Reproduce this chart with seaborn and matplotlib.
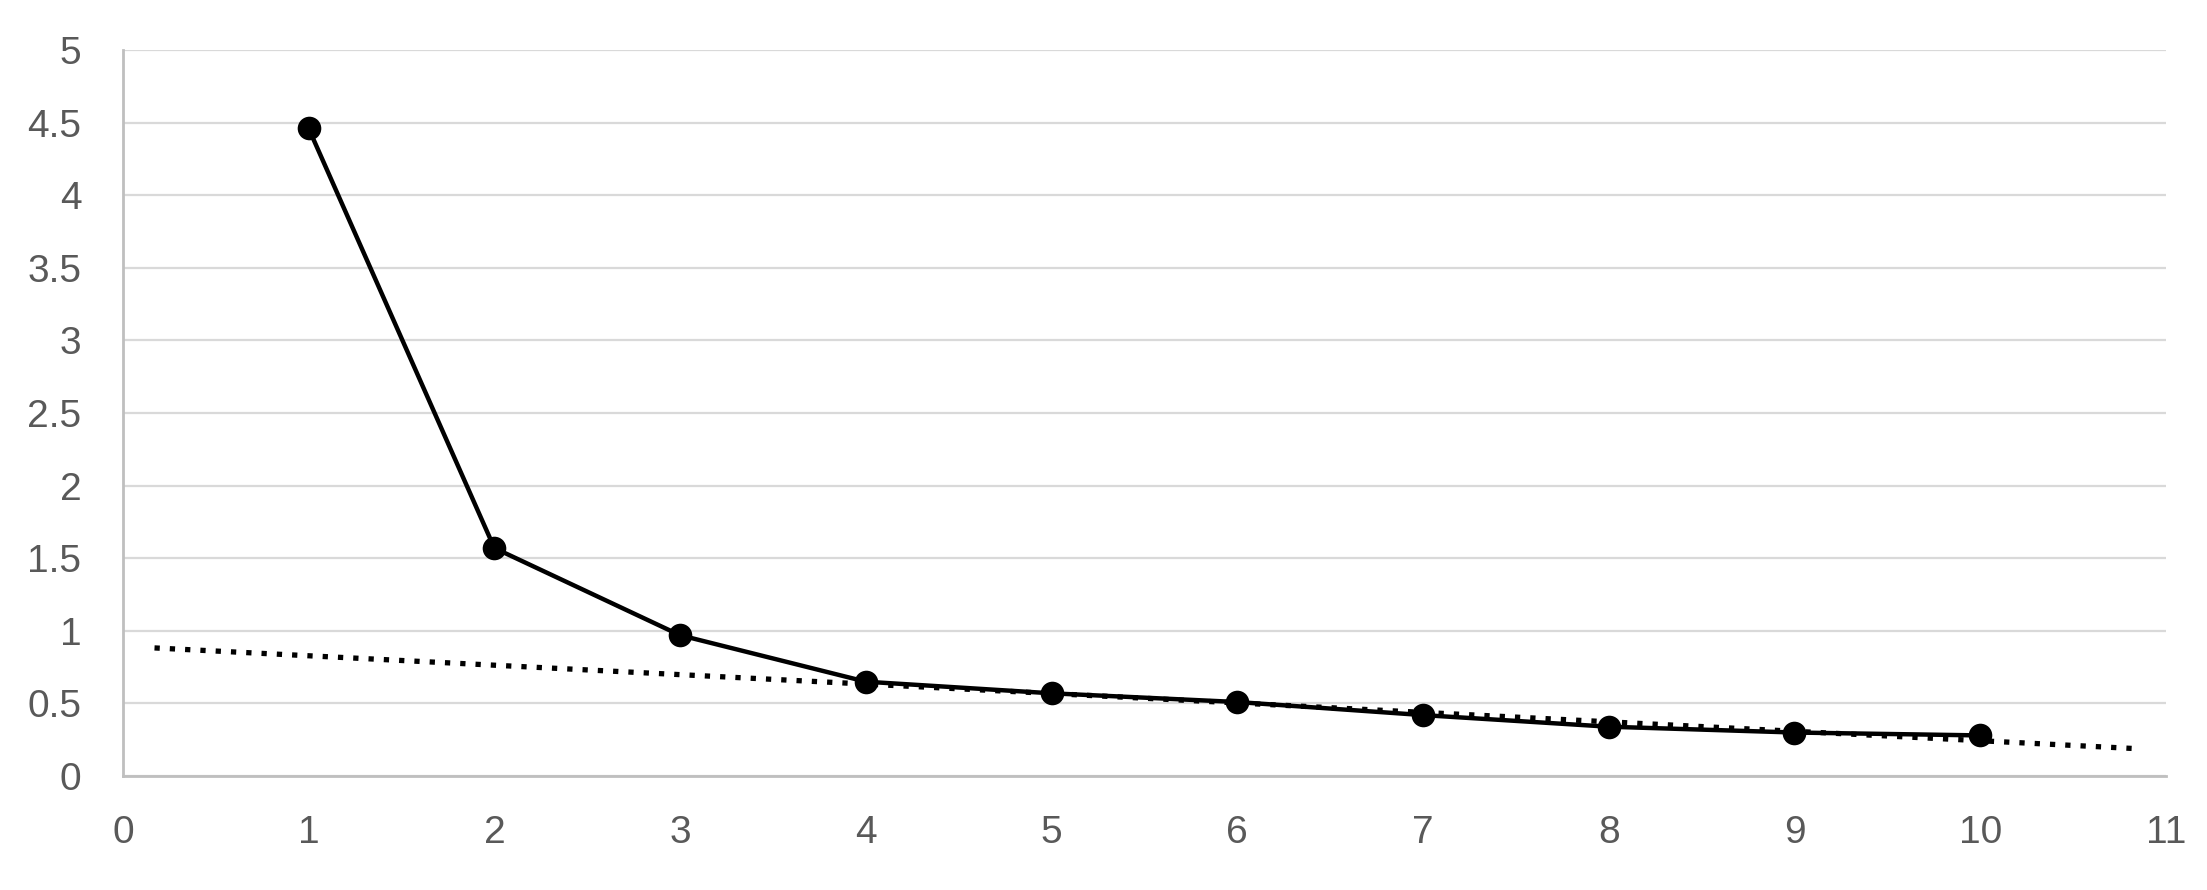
import numpy as np
import pandas as pd
import matplotlib.pyplot as plt
import seaborn as sns

# Values.
factors = [1, 2, 3, 4, 5, 6, 7, 8, 9, 10]
eigenvalues = [4.46, 1.57, 0.97, 0.65, 0.57, 0.51, 0.42, 0.34, 0.30, 0.28]

# Trend line: linear fit over factors 4-10, drawn across this x span.
fitFactors = [4, 5, 6, 7, 8, 9, 10]
trendSpan = [0.17, 10.85]

df = pd.DataFrame({"factor": factors, "eigen": eigenvalues})
fit = df[df["factor"].isin(fitFactors)]
slope, intercept = np.polyfit(fit["factor"], fit["eigen"], 1)
trend = pd.DataFrame({"x": trendSpan})
trend["y"] = intercept + slope * trend["x"]

sns.set_theme(style="white")
plt.rcParams["font.family"] = ["Liberation Sans", "DejaVu Sans"]

fig = plt.figure(figsize=(22.07, 8.9), dpi=100)
ax = fig.add_axes([0.0557, 0.128, 0.9257, 0.8158])

sns.lineplot(
    data=trend, x="x", y="y", ax=ax, color="black",
    linewidth=3.8, linestyle=(0, (1, 1.9)), dash_capstyle="butt", zorder=2,
)
sns.lineplot(
    data=df, x="factor", y="eigen", ax=ax, color="black",
    linewidth=3.2, marker="o", markersize=17, markeredgewidth=0, zorder=3,
)

ax.set_xlim(0, 11)
ax.set_ylim(0, 5)
ax.set_xticks(range(0, 12))
ax.set_yticks(np.arange(0, 5.01, 0.5))
ax.set_yticklabels(["0", "0.5", "1", "1.5", "2", "2.5", "3", "3.5", "4", "4.5", "5"])
ax.set_xlabel("")
ax.set_ylabel("")

ax.yaxis.grid(True, color="#D9D9D9", linewidth=1.6)
ax.xaxis.grid(False)
ax.set_axisbelow(True)
for side in ["top", "right"]:
    ax.spines[side].set_visible(False)
for side in ["left", "bottom"]:
    ax.spines[side].set_color("#BFBFBF")
    ax.spines[side].set_linewidth(2)

ax.tick_params(axis="both", length=0, labelsize=28, labelcolor="#595959")
ax.tick_params(axis="y", pad=30)
ax.tick_params(axis="x", pad=28)

fig.savefig("out.png", dpi=100)
